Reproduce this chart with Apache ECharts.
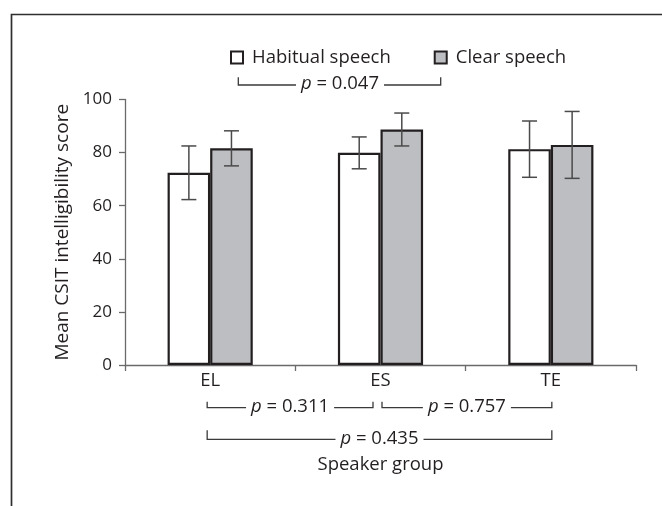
<!DOCTYPE html>
<html>
<head>
<meta charset="utf-8">
<script src="https://cdn.jsdelivr.net/npm/echarts@6/dist/echarts.min.js"></script>
<style>
html,body{margin:0;padding:0;background:#fff;}
#main{width:662px;height:506px;}
</style>
</head>
<body>
<div id="main"></div>
<script>
// ---- data ----
var categories = ['EL', 'ES', 'TE'];
var habitualMean = [72.4, 79.9, 81.3];
var habitualSD = [10.1, 6.0, 10.6];
var clearMean = [81.6, 88.7, 82.9];
var clearSD = [6.6, 6.2, 12.6];
var yTicks = [0, 20, 40, 60, 80, 100];
// group comparisons: [fromCategory, toCategory, level, p label]
var groupComparisons = [
  [0, 1, 0, '0.311'],
  [1, 2, 0, '0.757'],
  [0, 2, 1, '0.435']
];
var conditionP = '0.047';

// ---- style ----
var FONT = 'Open Sans';
var FS = 18.5;
var TXT = '#231f20';
var AXIS = '#6a6a6a';
var BORDER = '#231f20';
var GREY = '#bdbec1';

var chart = echarts.init(document.getElementById('main'), null, {renderer: 'canvas'});

function errorBarRenderer(offsetSign, sds) {
  return function (params, api) {
    var idx = api.value(0);
    var mean = api.value(1);
    var sd = sds[params.dataIndex];
    var band = api.size([1, 0])[0];
    var bw = band * 0.25;
    var c = api.coord([idx, mean]);
    var x = c[0] + offsetSign * bw / 2;
    var top = api.coord([idx, mean + sd])[1];
    var bot = api.coord([idx, mean - sd])[1];
    var cap = 7.5;
    var st = {stroke: '#4a4a4a', lineWidth: 1.5};
    return {
      type: 'group',
      children: [
        {type: 'line', shape: {x1: x, y1: top, x2: x, y2: bot}, style: st},
        {type: 'line', shape: {x1: x - cap, y1: top, x2: x + cap, y2: top}, style: st},
        {type: 'line', shape: {x1: x - cap, y1: bot, x2: x + cap, y2: bot}, style: st}
      ]
    };
  };
}

function pText(x, y, val) {
  return {
    type: 'text', x: x, y: y,
    style: {
      text: '{i|p} = ' + val,
      align: 'center', verticalAlign: 'middle',
      backgroundColor: '#fff', padding: [0, 5, 0, 5],
      font: FS + 'px "' + FONT + '"', fill: TXT,
      rich: {i: {fontStyle: 'italic', fontFamily: FONT, fontSize: FS, fill: TXT}}
    }
  };
}

function bracketRenderer(params, api) {
  var item = groupComparisons[params.dataIndex];
  var a = api.coord([item[0], 0]);
  var b = api.coord([item[1], 0]);
  var level = item[2];
  var y = a[1] + (level === 0 ? 42.7 : 74.3);
  var th = level === 0 ? 6 : 9;
  var x1 = a[0] + (item[0] === 1 ? 1.5 : -3);
  var x2 = b[0] + (item[1] === 1 ? -7.5 : 1);
  var st = {stroke: '#3a3a3a', lineWidth: 1.3, fill: null};
  var t = pText((x1 + x2) / 2, y - 1, item[3]);
  return {
    type: 'group',
    children: [
      {type: 'polyline', shape: {points: [[x1, y - th], [x1, y], [x2, y], [x2, y - th]]}, style: st},
      t
    ]
  };
}

var topText = pText(340, 84, conditionP);
topText.z = 10;

var option = {
  animation: false,
  backgroundColor: '#fff',
  textStyle: {fontFamily: FONT},
  grid: {left: 125, right: 26, top: 99.5, bottom: 141},
  legend: {
    left: 225, top: 43,
    icon: 'rect', itemWidth: 12, itemHeight: 12, itemGap: 43,
    textStyle: {fontFamily: FONT, fontSize: FS, color: TXT, padding: [0, 0, 0, 4]},
    data: ['Habitual speech', 'Clear speech']
  },
  xAxis: {
    type: 'category',
    data: categories,
    boundaryGap: true,
    name: 'Speaker group',
    nameLocation: 'middle',
    nameGap: 90,
    nameTextStyle: {fontFamily: FONT, fontSize: FS, color: TXT},
    axisLine: {lineStyle: {color: AXIS, width: 1.3}},
    axisTick: {show: true, length: 6, inside: false, alignWithLabel: false, lineStyle: {color: AXIS, width: 1.3}},
    axisLabel: {fontFamily: FONT, fontSize: FS, color: TXT, margin: 6},
    splitLine: {show: false}
  },
  yAxis: {
    type: 'value',
    min: 0, max: 100, interval: 20,
    name: 'Mean CSIT intelligibility score',
    nameLocation: 'middle',
    nameRotate: 90,
    nameGap: 50,
    nameTextStyle: {fontFamily: FONT, fontSize: 19, color: TXT},
    axisLine: {show: true, lineStyle: {color: AXIS, width: 1.3}},
    axisTick: {show: true, length: 6, lineStyle: {color: AXIS, width: 1.3}},
    axisLabel: {fontFamily: FONT, fontSize: 17, color: TXT, margin: 13,
      formatter: function (v) { return yTicks.indexOf(v) >= 0 ? String(v) : ''; }},
    splitLine: {show: false}
  },
  series: [
    {
      name: 'Habitual speech', type: 'bar', data: habitualMean,
      barWidth: '25%', barGap: '0%',
      itemStyle: {color: '#ffffff', borderColor: BORDER, borderWidth: 2.2},
      z: 2
    },
    {
      name: 'Clear speech', type: 'bar', data: clearMean,
      barWidth: '25%', barGap: '0%',
      itemStyle: {color: GREY, borderColor: BORDER, borderWidth: 2.2},
      z: 2
    },
    {
      type: 'custom', name: 'habErr',
      data: habitualMean.map(function (v, i) { return [i, v]; }),
      renderItem: errorBarRenderer(-1, habitualSD), z: 5, silent: true
    },
    {
      type: 'custom', name: 'clrErr',
      data: clearMean.map(function (v, i) { return [i, v]; }),
      renderItem: errorBarRenderer(1, clearSD), z: 5, silent: true
    },
    {
      type: 'custom', name: 'brackets',
      data: groupComparisons.map(function (c) { return [c[0], 0]; }),
      renderItem: bracketRenderer, z: 5, silent: true, clip: false
    }
  ],
  graphic: [
    {type: 'rect', shape: {x: 11.5, y: 14.5, width: 800, height: 800},
      style: {fill: null, stroke: '#2e2e2e', lineWidth: 1.7}, silent: true, z: -1},
    {type: 'polyline', shape: {points: [[238.3, 77.3], [238.3, 85], [440.7, 85], [440.7, 77.3]]},
      style: {fill: null, stroke: '#3a3a3a', lineWidth: 1.3}},
    topText
  ]
};
chart.setOption(option);
</script>
</body>
</html>
